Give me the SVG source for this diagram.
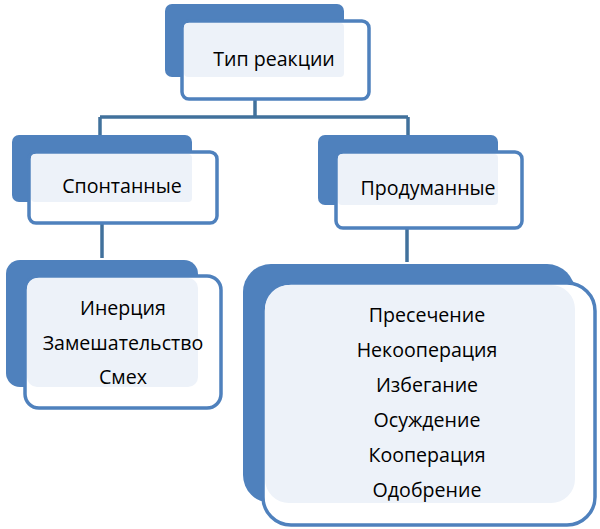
<svg xmlns="http://www.w3.org/2000/svg" width="600" height="529" viewBox="0 0 600 529">
<style>
.back{fill:#4F81BD}
.front{fill:#FFFFFF;stroke:#4F81BD;stroke-width:3.5}
.tint{fill:#EDF2F9}
.conn{fill:none;stroke:#41719C;stroke-width:3.5}
text{font-family:"Open Sans","Liberation Sans",Arial,sans-serif;font-size:19.6px;fill:#000;text-anchor:middle}
</style>
<rect width="600" height="529" fill="#FFFFFF"/>
<g id="connectors">
<path class="conn" d="M255,99 V117 M100,117 H408 M100,117 V136 M408,117 V136"/>
<path class="conn" d="M102,223 V258"/>
<path class="conn" d="M407,228 V262"/>
</g>
<g id="node-type">
<rect class="back" x="165" y="4" width="179" height="73" rx="7"/>
<rect class="front" x="182" y="21" width="187" height="78" rx="7"/>
<rect class="tint" x="184" y="23" width="160" height="54" rx="4"/>
<text x="274" y="66">Тип реакции</text>
</g>
<g id="node-spontaneous">
<rect class="back" x="12" y="135" width="180" height="67" rx="7"/>
<rect class="front" x="29" y="152" width="188" height="71" rx="7"/>
<rect class="tint" x="31" y="154" width="161" height="48" rx="4"/>
<text x="122" y="193">Спонтанные</text>
</g>
<g id="node-deliberate">
<rect class="back" x="318" y="135" width="180" height="70" rx="7"/>
<rect class="front" x="336" y="152" width="186" height="76" rx="7"/>
<rect class="tint" x="338" y="154" width="160" height="51" rx="4"/>
<text x="428" y="195">Продуманные</text>
</g>
<g id="node-spontaneous-list">
<rect class="back" x="6" y="260" width="192" height="127" rx="14"/>
<rect class="front" x="25" y="276" width="196" height="132" rx="14"/>
<rect class="tint" x="27" y="278" width="171" height="109" rx="10"/>
<text x="123" y="315">Инерция</text>
<text x="123" y="350">Замешательство</text>
<text x="123" y="384">Смех</text>
</g>
<g id="node-deliberate-list">
<rect class="back" x="243" y="264" width="332" height="239" rx="28"/>
<rect class="front" x="263" y="283" width="332" height="242" rx="28"/>
<rect class="tint" x="265" y="285" width="310" height="218" rx="24"/>
<text x="427" y="322">Пресечение</text>
<text x="427" y="357">Некооперация</text>
<text x="427" y="392">Избегание</text>
<text x="427" y="427">Осуждение</text>
<text x="427" y="462">Кооперация</text>
<text x="427" y="497">Одобрение</text>
</g>
</svg>
